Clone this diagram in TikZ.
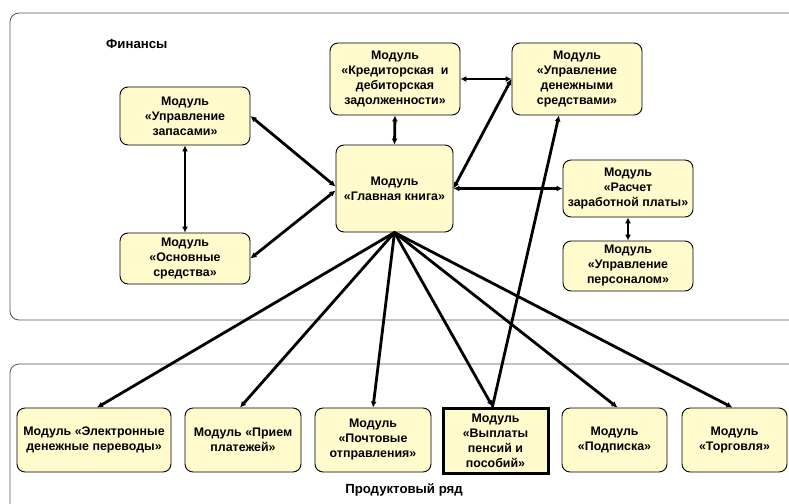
\documentclass[tikz,border=0pt]{standalone}
\usepackage{fontspec}
\setmainfont{Liberation Sans}
\usetikzlibrary{arrows.meta}
\definecolor{boxfill}{HTML}{FFFBCC}
\definecolor{framecol}{HTML}{555555}
\begin{document}
\begin{tikzpicture}[x=1pt,y=-1pt,
  every node/.style={font=\fontsize{12.4}{15}\selectfont\bfseries, align=center, inner sep=0pt},
  modbox/.style={draw=black, line width=0.9pt, fill=boxfill, rounded corners=8pt},
  mainbox/.style={draw=black, line width=3pt, fill=boxfill},
  frame/.style={draw=framecol, line width=0.8pt, rounded corners=9pt},
  grouplabel/.style={font=\fontsize{13.2}{16}\selectfont\bfseries},
  link/.style={line width=2.8pt, line cap=round},
  both/.style={link, {Latex[length=6pt,width=6pt]}-{Latex[length=6pt,width=6pt]}},
  one/.style={link, -{Latex[length=6pt,width=6pt]}}]
\useasboundingbox (0,0) rectangle (789,503);
\fill[white] (0,0) rectangle (789,503);
\draw[frame] (10,13) rectangle (810,320);
\draw[frame] (10,364) rectangle (810,530);
\node[grouplabel, anchor=west] (fin) at (106,44) {Финансы};
\node[grouplabel] (prod) at (404,490) {Продуктовый ряд};
% finance modules
\node[modbox, minimum width=130pt, minimum height=58pt] (zap) at (185,116) {Модуль\\«Управление\\запасами»};
\node[modbox, minimum width=130pt, minimum height=51pt] (os) at (185,258.5) {Модуль\\«Основные\\средства»};
\node[modbox, minimum width=117pt, minimum height=87pt] (gk) at (394.5,188.5) {Модуль\\«Главная книга»};
\node[modbox, minimum width=130pt, minimum height=72pt] (kr) at (395,79) {Модуль\\«Кредиторская\ \ и\\дебиторская\\задолженности»};
\node[modbox, minimum width=130pt, minimum height=72pt] (ds) at (577,79) {Модуль\\«Управление\\денежными\\средствами»};
\node[modbox, minimum width=130pt, minimum height=57pt] (ras) at (628,188.5) {Модуль\\«Расчет\\заработной платы»};
\node[modbox, minimum width=130pt, minimum height=50pt] (per) at (628,266) {Модуль\\«Управление\\персоналом»};
% product modules
\node[modbox, minimum width=154pt, minimum height=64pt] (el) at (94,440) {Модуль «Электронные\\денежные переводы»};
\node[modbox, minimum width=116pt, minimum height=64pt] (pr) at (243,440) {Модуль «Прием\\платежей»};
\node[modbox, minimum width=116pt, minimum height=64pt] (po) at (373,440) {Модуль\\«Почтовые\\отправления»};
\node[mainbox, minimum width=105pt, minimum height=65pt] (vy) at (495.5,440.5) {Модуль\\«Выплаты\\пенсий и\\пособий»};
\node[modbox, minimum width=105pt, minimum height=64pt] (pod) at (614.5,440) {Модуль\\«Подписка»};
\node[modbox, minimum width=105pt, minimum height=64pt] (tor) at (734.5,440) {Модуль\\«Торговля»};
% finance links
\draw[both] (zap.east) -- ([yshift=2pt]gk.west);
\draw[both] (os.east) -- ([yshift=-2pt]gk.west);
\draw[both] (zap.south) -- (os.north);
\draw[both] (kr.south) -- (gk.north);
\draw[both] (kr.east) -- (ds.west);
\draw[both] (gk.east) -- (ds.west);
\draw[both] (gk.east) -- (ras.west);
\draw[both] (ras.south) -- (per.north);
% product links
\draw[one] (gk.south) -- ([xshift=3pt]el.north);
\draw[one] (gk.south) -- ([xshift=-3pt]pr.north);
\draw[one] (gk.south) -- (po.north);
\draw[one] (gk.south) -- ([xshift=-3pt]vy.north);
\draw[one] (gk.south) -- ([xshift=3pt]pod.north);
\draw[one] (gk.south) -- ([xshift=-2pt]tor.north);
\draw[one] ([xshift=-3pt]vy.north) -- ([xshift=-18pt]ds.south);
\end{tikzpicture}
\end{document}
